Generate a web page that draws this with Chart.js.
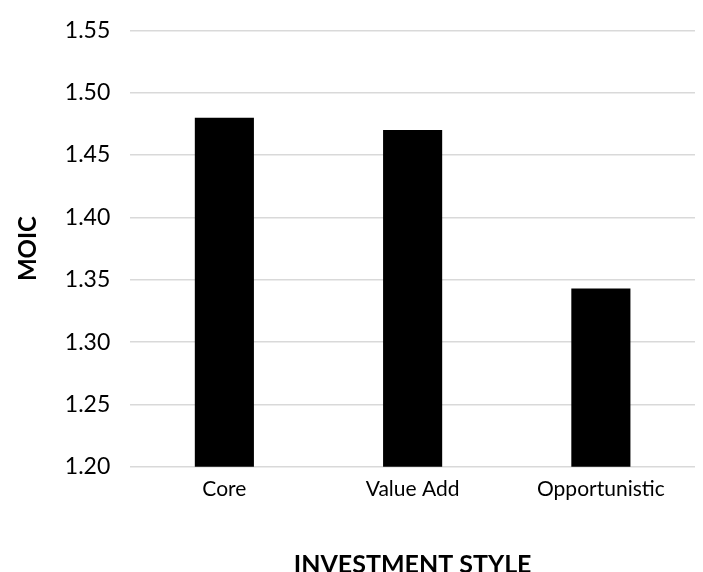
<!DOCTYPE html>
<html>
<head>
<meta charset="utf-8">
<style>
  html, body { margin: 0; padding: 0; background: #fff; }
  #wrap { width: 703px; height: 572px; }
</style>
<script src="https://cdn.jsdelivr.net/npm/chart.js@4/dist/chart.umd.min.js"></script>
</head>
<body>
<div id="wrap"><canvas id="moicChart" width="703" height="572"></canvas></div>
<script>
// Data grafik MOIC per gaya investasi
const kategori = ['Core', 'Value Add', 'Opportunistic'];
const nilaiMoic = [1.48, 1.47, 1.343];
const tickY = [1.20, 1.25, 1.30, 1.35, 1.40, 1.45, 1.50, 1.55];

const fontDasar = 'Lato, "Noto Sans", sans-serif';

// eslint-disable-next-line no-undef
new Chart(document.getElementById('moicChart'), {
  type: 'bar',
  data: {
    labels: kategori,
    datasets: [{
      label: 'MOIC',
      data: nilaiMoic,
      backgroundColor: '#000000',
      borderWidth: 0,
      barPercentage: 0.314,
      categoryPercentage: 1.0
    }]
  },
  options: {
    responsive: false,
    animation: false,
    devicePixelRatio: 1,
    layout: { padding: { top: 6, right: 8, bottom: -8, left: 14 } },
    plugins: {
      legend: { display: false },
      tooltip: { enabled: false }
    },
    scales: {
      x: {
        grid: { display: false, drawTicks: false },
        border: { display: false },
        ticks: { color: '#000', padding: 10, font: { family: fontDasar, size: 21 } },
        title: {
          display: true,
          text: 'INVESTMENT STYLE',
          color: '#000',
          font: { family: fontDasar, size: 25, weight: 'bold' },
          padding: { top: 38, bottom: 0 }
        }
      },
      y: {
        min: 1.20,
        max: 1.55,
        afterBuildTicks: (skala) => { skala.ticks = tickY.map(v => ({ value: v })); },
        grid: { color: '#d9d9d9', lineWidth: 1.5, drawTicks: false },
        border: { display: false },
        ticks: {
          color: '#000',
          padding: 20,
          font: { family: fontDasar, size: 23, lineHeight: 0.9 },
          callback: (v) => Number(v).toFixed(2)
        },
        title: {
          display: true,
          text: 'MOIC',
          color: '#000',
          font: { family: fontDasar, size: 24, weight: 'bold' },
          padding: { top: 0, bottom: 2 }
        }
      }
    }
  }
});
</script>
</body>
</html>
